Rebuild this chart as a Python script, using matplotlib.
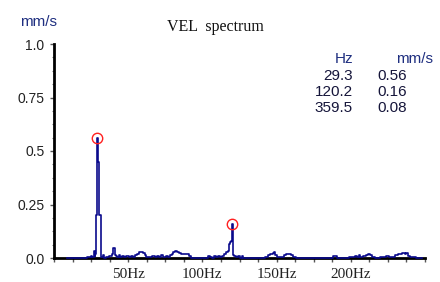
#!/usr/bin/env python3
# -*- coding: utf-8 -*-

import matplotlib
matplotlib.use('Agg')
from matplotlib import pyplot
from matplotlib.ticker import MultipleLocator, FixedLocator

# velocity spectrum (Hz, mm/s)
freq_hz = [
    9.0, 20.0, 24.0, 25.5, 26.3, 27.0, 27.6, 28.0, 28.7, 29.3, 30.1, 31.1,
    32.4, 33.5, 34.5, 36.0, 38.0, 39.5, 40.5, 41.2, 42.0, 43.0,
    44.0, 45.0, 46.5, 48.0, 49.5, 51.0, 52.5, 54.0, 55.5, 56.5, 57.5, 58.5,
    59.5, 60.5, 61.5, 62.5, 64.0, 65.5, 67.0, 68.5, 70.0, 71.5, 73.0, 74.5,
    76.0, 77.5, 79.0, 80.0, 81.0, 82.0, 83.5, 85.0, 86.0, 87.5, 89.0, 90.5,
    91.5, 92.5, 95.0, 100.0, 103.0, 104.5, 105.5, 107.0, 108.5, 110.0, 111.5,
    112.5, 114.0, 115.5, 116.8, 117.6, 118.4, 119.0, 119.6, 120.2,
    120.8, 121.4, 122.0, 123.0, 124.5, 126.0, 127.0, 128.0, 135.0, 140.0,
    144.0, 145.0, 146.5, 148.0, 148.8, 149.5, 150.5, 152.0, 154.0, 155.5,
    157.0, 159.0, 160.5, 161.5, 165.0, 175.0, 185.0, 190.5, 191.5, 196.0,
    202.0, 203.5, 204.5, 206.0, 207.0, 209.5, 211.0, 212.5, 213.5, 214.5,
    218.0, 222.0, 225.5, 226.5, 229.0, 231.0, 232.5, 234.0, 235.5, 237.0,
    238.0, 239.0, 240.5, 243.0, 245.0, 248.0,
]
vel_mms = [
    0.000, 0.002, 0.003, 0.010, 0.004, 0.035, 0.010, 0.020, 0.200, 0.560, 0.450, 0.200,
    0.004, 0.015, 0.001, 0.005, 0.010, 0.020, 0.045, 0.015, 0.010, 0.005,
    0.012, 0.004, 0.008, 0.003, 0.008, 0.004, 0.010, 0.006, 0.012, 0.020, 0.030, 0.028,
    0.030, 0.022, 0.015, 0.004, 0.006, 0.003, 0.008, 0.005, 0.010, 0.004, 0.012, 0.005,
    0.010, 0.006, 0.012, 0.018, 0.028, 0.032, 0.030, 0.025, 0.020, 0.020, 0.019, 0.018,
    0.008, 0.002, 0.001, 0.001, 0.002, 0.010, 0.004, 0.002, 0.010, 0.006, 0.010,
    0.004, 0.008, 0.020, 0.030, 0.035, 0.065, 0.075, 0.080, 0.160,
    0.015, 0.010, 0.008, 0.005, 0.008, 0.002, 0.010, 0.002, 0.001, 0.001,
    0.003, 0.015, 0.018, 0.022, 0.027, 0.015, 0.005, 0.003, 0.004, 0.016,
    0.018, 0.020, 0.015, 0.003, 0.001, 0.001, 0.001, 0.008, 0.001, 0.001,
    0.003, 0.010, 0.004, 0.012, 0.005, 0.008, 0.015, 0.020, 0.012, 0.004,
    0.002, 0.003, 0.010, 0.003, 0.005, 0.012, 0.020, 0.020, 0.024, 0.018,
    0.022, 0.008, 0.003, 0.005, 0.002, 0.001,
]

# marked peaks (the third one lies past the visible range)
peak_hz = [29.3, 120.2, 359.5]
peak_mms = [0.56, 0.16, 0.08]
peak_hz_text = ['29.3', '120.2', '359.5']
peak_mms_text = ['0.56', '0.16', '0.08']

y_ticks = [0.0, 0.25, 0.5, 0.75, 1.0]
y_tick_labels = ['0.0', '0.25', '0.5', '0.75', '1.0']
x_ticks = [50, 100, 150, 200]
x_tick_labels = ['50Hz', '100Hz', '150Hz', '200Hz']


def main():
    W, H = 440, 282
    fig = pyplot.figure(figsize=(W / 100, H / 100), dpi=100)
    try:
        ax = fig.add_axes([54 / W, 1 - 258 / H, (425 - 54) / W, (258 - 44) / H])
        ax.set_xlim(0, 250)
        ax.set_ylim(0, 1.0)

        ax.plot(freq_hz, vel_mms, color='#0a0a8c', lw=1.2, zorder=3, clip_on=False,
                drawstyle='steps-mid')
        ax.plot(peak_hz, peak_mms, 'o', ms=7.5, mfc='none', mec='#ff2020', mew=1.0,
                zorder=4)

        for s in ('top', 'right'):
            ax.spines[s].set_visible(False)
        for s in ('left', 'bottom'):
            ax.spines[s].set_linewidth(2.0)
            ax.spines[s].set_color('black')

        ax.yaxis.set_major_locator(FixedLocator(y_ticks))
        ax.set_yticklabels(y_tick_labels, fontfamily='Liberation Sans', fontsize=10,
                           color='#222222')
        ax.yaxis.set_minor_locator(MultipleLocator(0.0625))
        ax.tick_params(axis='y', which='major', direction='out', length=3,
                       width=1.0, color='#555555', pad=4)
        ax.tick_params(axis='y', which='minor', direction='out', length=1.5,
                       width=0.8, color='#777777')

        ax.xaxis.set_major_locator(FixedLocator(x_ticks))
        ax.set_xticklabels(x_tick_labels, fontfamily='Liberation Serif', fontsize=11,
                           color='#222222')
        ax.xaxis.set_minor_locator(MultipleLocator(12.5))
        ax.tick_params(axis='x', which='both', direction='out', length=3,
                       width=1.0, color='#555555', pad=4)

        fig.text(38.5 / W, 1 - 22 / H, 'mm/s', ha='center', va='center',
                 fontfamily='Liberation Sans', fontsize=11, color='#1f2f80')
        fig.text(215.5 / W, 1 - 27 / H, 'VEL  spectrum', ha='center', va='center',
                 fontfamily='Liberation Serif', fontsize=11.5, color='#111111')

        # peak table
        fig.text(353 / W, 1 - 59 / H, 'Hz', ha='right', va='center',
                 fontfamily='Liberation Sans', fontsize=11, color='#1f2f80')
        fig.text(433 / W, 1 - 59 / H, 'mm/s', ha='right', va='center',
                 fontfamily='Liberation Sans', fontsize=11, color='#1f2f80')
        for i, (f, v) in enumerate(zip(peak_hz_text, peak_mms_text)):
            y = 1 - (76.5 + 16 * i) / H
            fig.text(353 / W, y, f, ha='right', va='center',
                     fontfamily='Liberation Sans', fontsize=11, color='#15153a')
            fig.text(377 / W, y, v, ha='left', va='center',
                     fontfamily='Liberation Sans', fontsize=11, color='#15153a')

        fig.savefig('out.png', dpi=100)
    finally:
        pyplot.close(fig)


if __name__ == '__main__':
    main()
